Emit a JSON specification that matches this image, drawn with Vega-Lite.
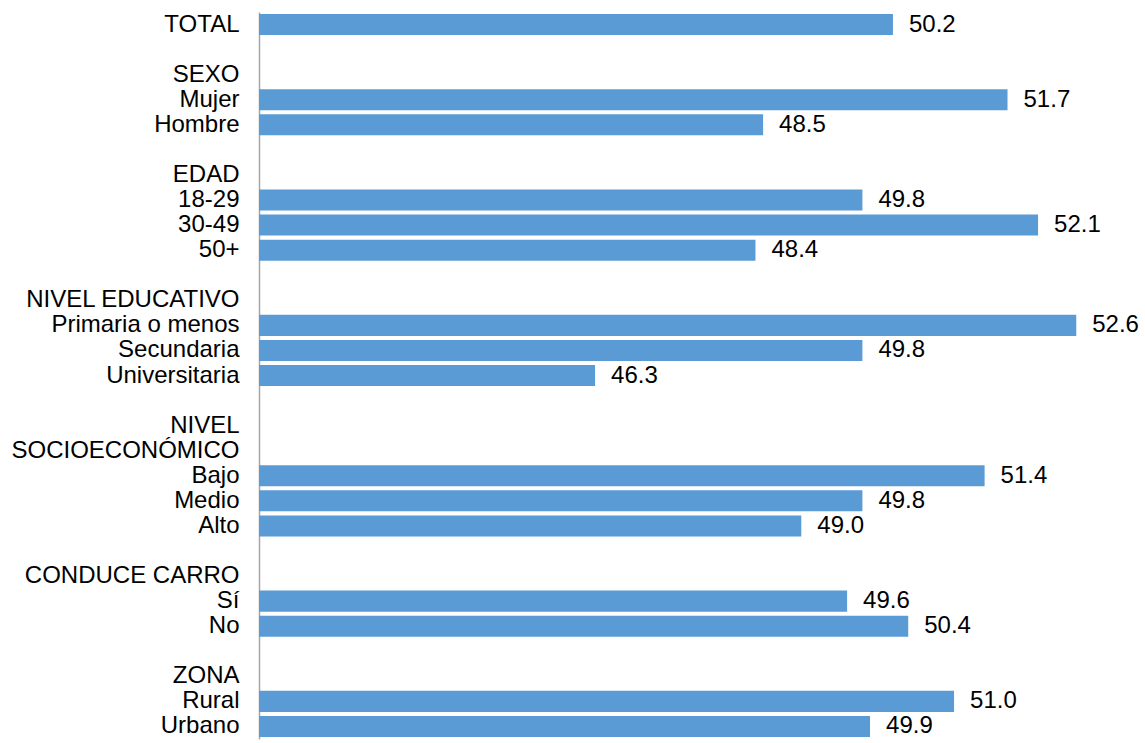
{
  "$schema": "https://vega.github.io/schema/vega-lite/v6.json",
  "width": 886,
  "height": 727,
  "autosize": {"type": "none"},
  "padding": {"left": 259, "top": 12, "right": 0, "bottom": 4},
  "config": {"view": {"stroke": null}, "font": "Liberation Sans"},
  "data": {
    "values": [
      {"categoria": "TOTAL", "valor": 50.2},
      {"categoria": " ", "valor": null},
      {"categoria": "SEXO", "valor": null},
      {"categoria": "Mujer", "valor": 51.7},
      {"categoria": "Hombre", "valor": 48.5},
      {"categoria": "  ", "valor": null},
      {"categoria": "EDAD", "valor": null},
      {"categoria": "18-29", "valor": 49.8},
      {"categoria": "30-49", "valor": 52.1},
      {"categoria": "50+", "valor": 48.4},
      {"categoria": "   ", "valor": null},
      {"categoria": "NIVEL EDUCATIVO", "valor": null},
      {"categoria": "Primaria o menos", "valor": 52.6},
      {"categoria": "Secundaria", "valor": 49.8},
      {"categoria": "Universitaria", "valor": 46.3},
      {"categoria": "    ", "valor": null},
      {"categoria": "NIVEL", "valor": null},
      {"categoria": "SOCIOECONÓMICO", "valor": null},
      {"categoria": "Bajo", "valor": 51.4},
      {"categoria": "Medio", "valor": 49.8},
      {"categoria": "Alto", "valor": 49.0},
      {"categoria": "     ", "valor": null},
      {"categoria": "CONDUCE CARRO", "valor": null},
      {"categoria": "Sí", "valor": 49.6},
      {"categoria": "No", "valor": 50.4},
      {"categoria": "      ", "valor": null},
      {"categoria": "ZONA", "valor": null},
      {"categoria": "Rural", "valor": 51.0},
      {"categoria": "Urbano", "valor": 49.9}
    ]
  },
  "encoding": {
    "y": {
      "field": "categoria",
      "type": "nominal",
      "sort": null,
      "scale": {
        "domain": ["TOTAL", " ", "SEXO", "Mujer", "Hombre", "  ", "EDAD", "18-29", "30-49", "50+", "   ", "NIVEL EDUCATIVO", "Primaria o menos", "Secundaria", "Universitaria", "    ", "NIVEL", "SOCIOECONÓMICO", "Bajo", "Medio", "Alto", "     ", "CONDUCE CARRO", "Sí", "No", "      ", "ZONA", "Rural", "Urbano"],
        "paddingInner": 0.16,
        "paddingOuter": 0.08
      },
      "axis": {
        "title": null,
        "ticks": false,
        "domain": true,
        "domainColor": "#a6a6a6",
        "domainWidth": 1.5,
        "labelPadding": 20,
        "labelFontSize": 24,
        "labelColor": "#000000",
        "labelFont": "Liberation Sans",
        "labelLimit": 400
      }
    }
  },
  "layer": [
    {
      "mark": {"type": "bar", "color": "#5b9bd5"},
      "encoding": {
        "x": {
          "field": "valor",
          "type": "quantitative",
          "scale": {"domain": [41.9, 53.5], "zero": false, "nice": false},
          "axis": null
        },
        "x2": {"datum": 41.9}
      }
    },
    {
      "mark": {"type": "text", "align": "left", "baseline": "middle", "dx": 16, "fontSize": 24, "color": "#000000", "font": "Liberation Sans"},
      "encoding": {
        "x": {"field": "valor", "type": "quantitative"},
        "text": {"field": "valor", "type": "quantitative", "format": ".1f"}
      }
    }
  ]
}
